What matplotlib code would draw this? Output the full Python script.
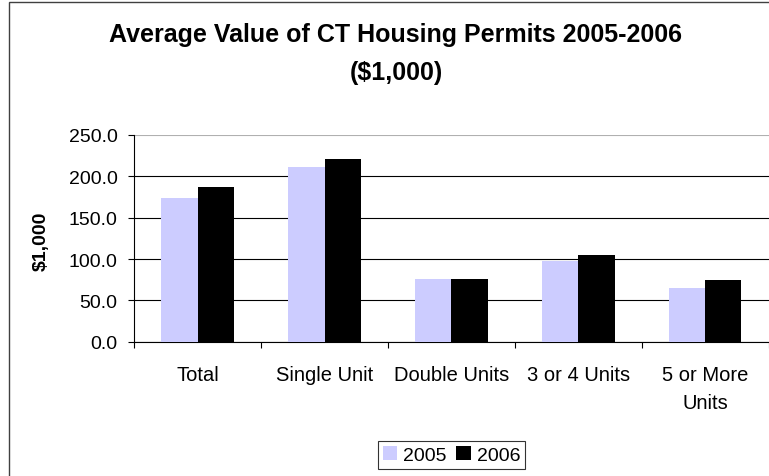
import numpy as np
import matplotlib
matplotlib.use('Agg')
import matplotlib.pyplot as plt
from matplotlib.patches import Rectangle

plt.rcParams['font.family'] = ['Liberation Sans', 'DejaVu Sans']

categories = ['Total', 'Single Unit', 'Double Units', '3 or 4 Units', '5 or More\nUnits']
values_2005 = [173.8, 211.3, 75.8, 97.6, 64.9]
values_2006 = [187.1, 221.0, 75.8, 104.8, 74.6]
yticks = [0, 50, 100, 150, 200, 250]

fig = plt.figure(figsize=(7.69, 4.77), dpi=100)

# chart area border (cut off at right and bottom like the screenshot)
fig.patches.append(Rectangle((9 / 769, -0.1), 1.2, 1 - 3 / 477 + 0.1,
                             transform=fig.transFigure, fill=False,
                             edgecolor='#404040', linewidth=1.0))

ax = fig.add_axes([134.3 / 769, 1 - 342.7 / 477, (768.5 - 134.3) / 769, (342.7 - 136) / 477])

x = np.arange(len(categories))
w = 0.286
ax.bar(x - w / 2, values_2005, w, color='#CCCCFF', label='2005', zorder=3)
ax.bar(x + w / 2, values_2006, w, color='black', label='2006', zorder=3)

ax.set_xlim(-0.5, len(categories) - 0.5)
ax.set_ylim(0, 250)
ax.set_yticks(yticks)
ax.set_yticklabels(['%.1f' % v for v in yticks])
ax.yaxis.grid(True, color='black', linewidth=0.8, zorder=0)
ax.get_ygridlines()[-1].set_color('#b0b0b0')

# ticks at category boundaries, labels at the centres
ax.set_xticks(np.arange(len(categories) + 1) - 0.5)
ax.set_xticklabels([])
ax.set_xticks(x, minor=True)
ax.set_xticklabels(categories, minor=True, linespacing=1.55)
ax.tick_params(axis='x', which='major', direction='out', length=4, width=0.8)
ax.tick_params(axis='x', which='minor', length=0, pad=17, labelsize=14.5)
ax.tick_params(axis='y', direction='out', length=4, width=0.8, pad=8, labelsize=14)

for s in ['top', 'right']:
    ax.spines[s].set_visible(False)
ax.spines['left'].set_linewidth(0.8)
ax.spines['bottom'].set_linewidth(0.8)

fig.text(41.7 / 769, 1 - 241 / 477, '$1,000', rotation=90, ha='center', va='center',
         fontsize=14, fontweight='bold')

fig.text(395 / 769, 1 - 35 / 477, 'Average Value of CT Housing Permits 2005-2006',
         ha='center', va='center', fontsize=18, fontweight='bold')
fig.text(396 / 769, 1 - 73 / 477, '($1,000)',
         ha='center', va='center', fontsize=18, fontweight='bold')

leg = fig.legend(loc='center', bbox_to_anchor=(451.5 / 769, 1 - 456 / 477),
                 ncol=2, fontsize=14, frameon=True, fancybox=False,
                 handlelength=0.75, handleheight=0.75, handletextpad=0.3,
                 columnspacing=0.5, borderpad=0.25)
leg.get_frame().set_edgecolor('black')
leg.get_frame().set_linewidth(0.8)

fig.savefig('out.png', dpi=100)
